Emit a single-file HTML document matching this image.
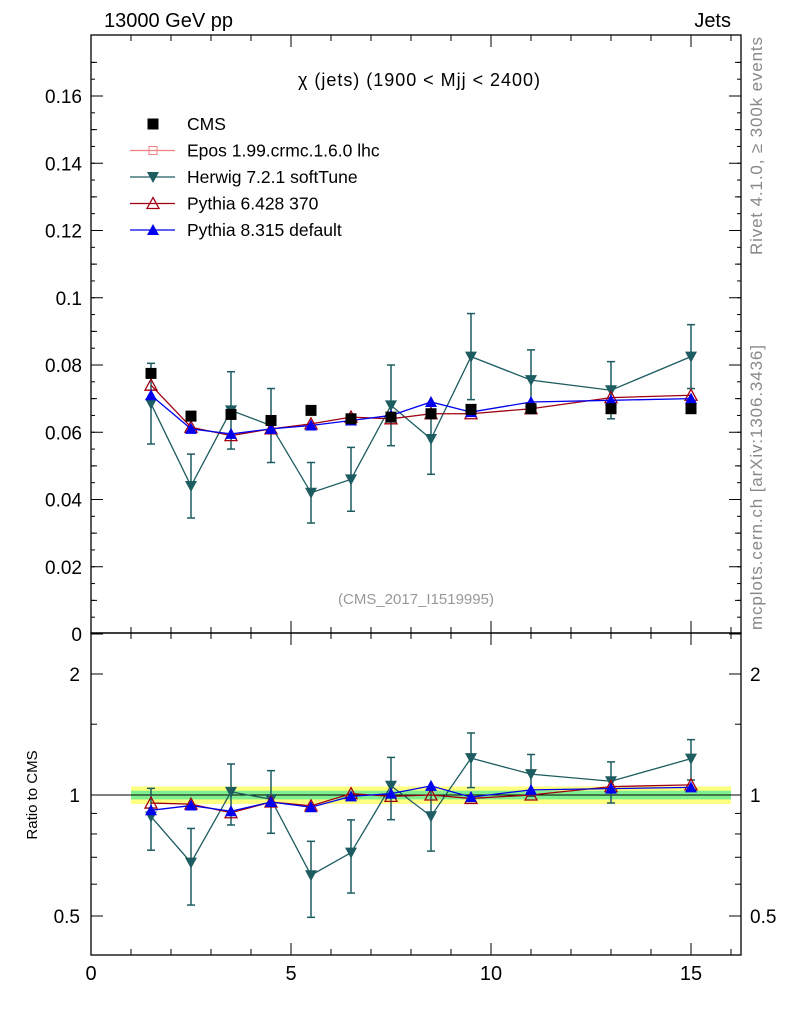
<!DOCTYPE html>
<html><head><meta charset="utf-8"><style>
body{margin:0;background:#fff;font-family:"Liberation Sans",sans-serif}
</style></head><body>
<svg id="c" width="786" height="1024" xmlns="http://www.w3.org/2000/svg" font-family="Liberation Sans, sans-serif"></svg>
<script>
const xs=[1.5,2.5,3.5,4.5,5.5,6.5,7.5,8.5,9.5,11,13,15];
const edges=[1,2,3,4,5,6,7,8,9,10,12,14,16];
const cms=[0.0775,0.0648,0.0653,0.0635,0.0665,0.064,0.0645,0.0655,0.0668,0.067,0.067,0.067];
const herwig=[0.0685,0.044,0.0665,0.062,0.042,0.046,0.068,0.058,0.0825,0.0755,0.0725,0.0825];
const herwigErr=[0.012,0.0095,0.0115,0.011,0.009,0.0095,0.012,0.0105,0.0128,0.009,0.0085,0.0095];
const py6=[0.074,0.0615,0.059,0.061,0.0625,0.0645,0.064,0.0655,0.0655,0.067,0.0703,0.071];
const py8=[0.071,0.061,0.0595,0.061,0.062,0.0635,0.065,0.069,0.066,0.069,0.0695,0.0700];
const yTicks=[0,0.02,0.04,0.06,0.08,0.1,0.12,0.14,0.16];
const xTicks=[0,5,10,15];
const rTicks=[0.5,1,2];
const NS="http://www.w3.org/2000/svg",svg=document.getElementById('c');
function el(t,a,txt){const e=document.createElementNS(NS,t);for(const k in a)e.setAttribute(k,a[k]);if(txt!==undefined)e.textContent=txt;svg.appendChild(e);return e;}
const L=91,R=741,T=35,M=633,B=955;
const X=v=>L+v*40;
const Y=v=>634-v*3362.5;
const RY=v=>795-Math.log10(v)*402;
let f=el('rect',{x:L,y:T,width:R-L,height:M-T,fill:'none',stroke:'#000','stroke-width':1.3});

f=el('rect',{x:L,y:M,width:R-L,height:B-M,fill:'none',stroke:'#000','stroke-width':1.3});

for(let v=0;v<=16;v+=1){const l=v%5==0?12:6;
 for(const [a,b] of [[M,M-l],[T,T+l],[B,B-l],[M,M+l]]) el('line',{x1:X(v),x2:X(v),y1:a,y2:b,stroke:'#000'});}
xTicks.forEach(v=>{const t=el('text',{x:X(v),y:980,'font-size':20,'text-anchor':'middle'},v);});
for(let i=0;i<=17;i++){const v=i*0.01,l=i%2==0?12:6;if(Y(v)<T)break;
 el('line',{x1:L,x2:L+l,y1:Y(v),y2:Y(v),stroke:'#000'});el('line',{x1:R,x2:R-l,y1:Y(v),y2:Y(v),stroke:'#000'});}
for(let i=0;i<35;i++){const v=i*0.005;if(Y(v)<T)break;el('line',{x1:L,x2:L+4,y1:Y(v),y2:Y(v),stroke:'#000'});el('line',{x1:R,x2:R-4,y1:Y(v),y2:Y(v),stroke:'#000'});}
yTicks.forEach(v=>{const t=el('text',{x:82,y:Y(v)+7,'font-size':19,'text-anchor':'end'},v===0?'0':String(v));});
[0.5,0.6,0.7,0.8,0.9,1,1.5,2].forEach(v=>{const l=(v==0.5||v==1||v==2)?12:6;el('line',{x1:L,x2:L+l,y1:RY(v),y2:RY(v),stroke:'#000'});el('line',{x1:R,x2:R-l,y1:RY(v),y2:RY(v),stroke:'#000'});});
rTicks.forEach(v=>{let t=el('text',{x:80,y:RY(v)+7,'font-size':19,'text-anchor':'end'},v);
 t=el('text',{x:750,y:RY(v)+7,'font-size':19},v);});
let t;
t=el('text',{x:104,y:27,'font-size':20},'13000 GeV pp');
t=el('text',{x:731,y:27,'font-size':20,'text-anchor':'end'},'Jets');
t=el('text',{x:419,y:86,'font-size':18,'text-anchor':'middle',textLength:242},'χ (jets) (1900 < Mjj < 2400)');
t=el('text',{x:416,y:604,'font-size':15,'text-anchor':'middle',fill:'#999'},'(CMS_2017_I1519995)');
t=el('text',{x:0,y:0,'font-size':17,fill:'#888',textLength:218,transform:'translate(762,255) rotate(-90)'},'Rivet 4.1.0, ≥ 300k events');
t=el('text',{x:0,y:0,'font-size':17,fill:'#888',textLength:285,transform:'translate(762,630) rotate(-90)'},'mcplots.cern.ch [arXiv:1306.3436]');
t=el('text',{x:0,y:0,'font-size':15,'text-anchor':'middle',transform:'translate(37,795) rotate(-90)'},'Ratio to CMS');
const bw=el('rect',{x:X(1),y:RY(1.05),width:X(16)-X(1),height:RY(0.95)-RY(1.05),fill:'#ffff80'});
const bg=el('rect',{x:X(1),y:RY(1.025),width:X(16)-X(1),height:RY(0.975)-RY(1.025),fill:'#80ef90'});
el('line',{x1:L,x2:R,y1:RY(1),y2:RY(1),stroke:'#000'});
function marker(x,y,type,color,name){let e;
 if(type=='sq')e=el('rect',{x:x-5.5,y:y-5.5,width:11,height:11,fill:'#000'});
 else if(type=='tri')e=el('polygon',{points:`${x},${y-6} ${x-6},${y+5} ${x+6},${y+5}`,fill:color});
 else if(type=='otri')e=el('polygon',{points:`${x},${y-6} ${x-6},${y+5} ${x+6},${y+5}`,fill:'none',stroke:color,'stroke-width':1.3});
 else e=el('polygon',{points:`${x},${y+6} ${x-6},${y-5} ${x+6},${y-5}`,fill:color});
 }
function series(vals,err,col,type,name,ratio){
 const Yf=ratio?(i=>RY(vals[i]/cms[i])):(i=>Y(vals[i]));
 if(err) xs.forEach((x,i)=>{const a=ratio?RY((vals[i]-err[i])/cms[i]):Y(vals[i]-err[i]),b=ratio?RY((vals[i]+err[i])/cms[i]):Y(vals[i]+err[i]);
  el('line',{x1:X(x),x2:X(x),y1:a,y2:b,stroke:col,'stroke-width':1.5});el('line',{x1:X(x)-4,x2:X(x)+4,y1:a,y2:a,stroke:col,'stroke-width':1.5});el('line',{x1:X(x)-4,x2:X(x)+4,y1:b,y2:b,stroke:col,'stroke-width':1.5});});
 const p=el('polyline',{points:xs.map((x,i)=>X(x)+','+Yf(i)).join(' '),fill:'none',stroke:col,'stroke-width':1.3});
 
 xs.forEach((x,i)=>marker(X(x),Yf(i),type,col,name+'-point'));}
series(herwig,herwigErr,'#1d5c60','dtri','herwig',false);
series(py6,null,'#a00010','otri','pythia6',false);
series(py8,null,'#0000ee','tri','pythia8',false);
xs.forEach((x,i)=>marker(X(x),Y(cms[i]),'sq','#000','cms-point'));
series(herwig,herwigErr,'#1d5c60','dtri','herwig-ratio',true);
series(py6,null,'#a00010','otri','pythia6-ratio',true);
series(py8,null,'#0000ee','tri','pythia8-ratio',true);
const leg=[['CMS','sq','#000'],['Epos 1.99.crmc.1.6.0 lhc','cross','#f08080'],['Herwig 7.2.1 softTune','dtri','#1d5c60'],['Pythia 6.428 370','otri','#a00010'],['Pythia 8.315 default','tri','#0000ee']];
leg.forEach((l,i)=>{const y=124+i*26.5;
 if(l[1]!='sq')el('line',{x1:130,x2:175,y1:y,y2:y,stroke:l[2],'stroke-width':1.3});
 if(l[1]=='cross'){el('rect',{x:149,y:y-4,width:8,height:8,fill:'none',stroke:l[2]});}
 else marker(153,y,l[1],l[2],'legend-marker');
 const tt=el('text',{x:187,y:y+6,'font-size':17.5},l[0]);});
</script>
</body></html>
